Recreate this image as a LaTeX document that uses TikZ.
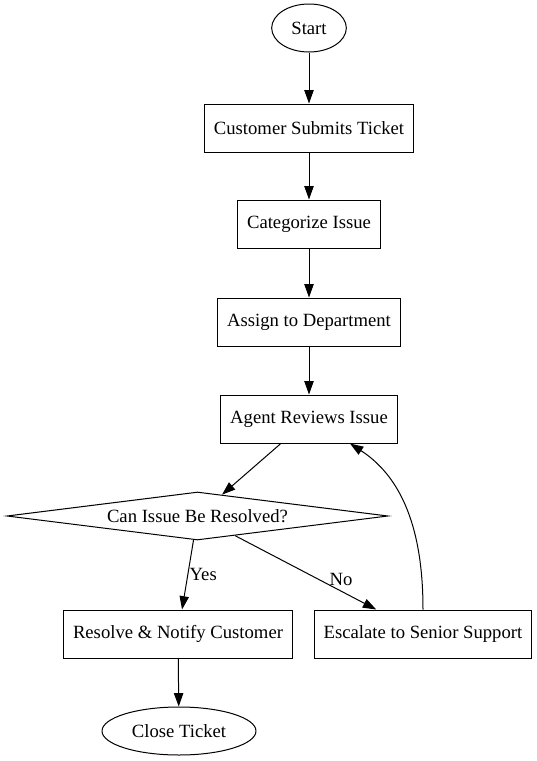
\documentclass[tikz,border=0pt]{standalone}
\usepackage{fontspec}
\setmainfont{Liberation Serif}
\usetikzlibrary{shapes.geometric,arrows.meta,calc}
\begin{document}
\begin{tikzpicture}[x=0.75pt,y=-0.75pt]
\tikzset{every node/.style={font=\fontsize{14}{16.8}\selectfont}}
\tikzset{stepbox/.style={draw,line width=0.75pt,rectangle,minimum height=36pt,inner xsep=7.25pt}}
\tikzset{terminal/.style={draw,line width=0.75pt,ellipse,minimum height=36pt,inner xsep=5.5pt}}
\tikzset{choice/.style={draw,line width=0.75pt,diamond,aspect=8,minimum width=285.75pt,minimum height=36pt,inner sep=0pt}}
\tikzset{flow/.style={line width=0.75pt,-{Triangle[length=10pt,width=7pt]}}}
\useasboundingbox (0,0) rectangle (536,761);
\node[terminal,minimum width=56pt] (start) at (309,28) {Start};
\node[stepbox] (submit) at (309,128) {Customer Submits Ticket};
\node[stepbox] (categorize) at (309,224) {Categorize Issue};
\node[stepbox] (assign) at (309,322) {Assign to Department};
\node[stepbox] (review) at (309,419) {Agent Reviews Issue};
\node[choice] (resolvable) at (197.5,516) {Can Issue Be Resolved?};
\node[stepbox] (resolve) at (178,634) {Resolve \& Notify Customer};
\node[stepbox] (escalate) at (423,634) {Escalate to Senior Support};
\node[terminal] (close) at (179,731) {Close Ticket};
\coordinate (reviewin) at ($(review.south)+(41,0)$);
\draw[flow] (start) -- (submit);
\draw[flow] (submit) -- (categorize);
\draw[flow] (categorize) -- (assign);
\draw[flow] (assign) -- (review);
\draw[flow] (review) -- (resolvable);
\draw[flow] (resolvable) -- node[pos=0.5,right,inner sep=1pt] {Yes} (resolve);
\draw[flow] (resolvable) -- node[pos=0.75,above] {No} (escalate);
\draw[flow] (resolve) -- (close);
\draw[flow] (escalate.north) .. controls +(0,-70) and +(57,37) .. (reviewin);
\end{tikzpicture}
\end{document}
